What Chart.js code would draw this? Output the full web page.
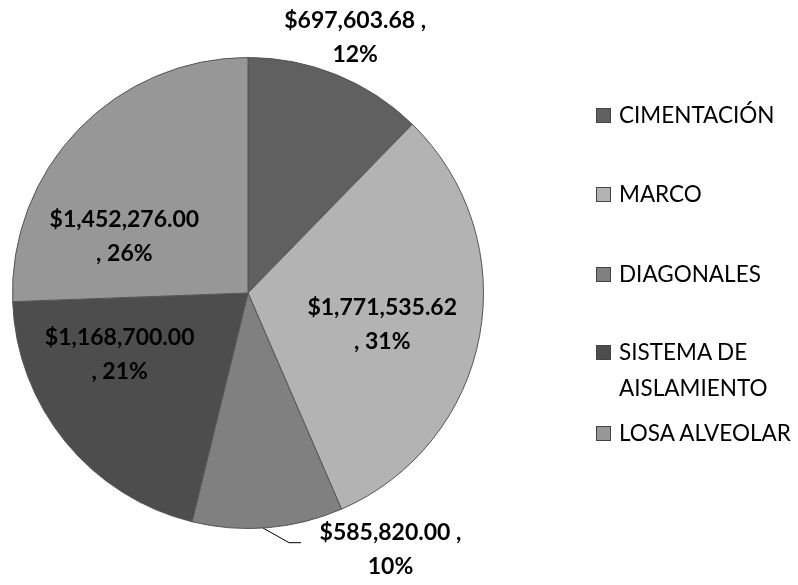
<!DOCTYPE html>
<html lang="es">
<head>
<meta charset="utf-8">
<title>Costos por partida</title>
<script src="https://cdn.jsdelivr.net/npm/chart.js@4.4.1/dist/chart.umd.min.js"></script>
<style>
    html, body { margin: 0; padding: 0; background: #fff; }
    #wrap { position: relative; width: 798px; height: 585px; }
    #costChart { position: absolute; left: 0; top: 0; }
    #legend { position: absolute; left: 596px; top: 0; font-family: Lato, "Open Sans", sans-serif; font-size: 22.5px; color: #000; }
    .item { position: absolute; left: 0; display: flex; align-items: flex-start; white-space: nowrap; line-height: 36px; }
    .box { width: 13px; height: 13px; border: 1px solid #444; margin-top: 11px; margin-right: 8px; flex: none; }
</style>
</head>
<body>
<div id="wrap">
    <canvas id="costChart" width="798" height="585"></canvas>
    <div id="legend"></div>
</div>
<script>
// Partidas del presupuesto
const categorias = ["CIMENTACIÓN", "MARCO", "DIAGONALES", "SISTEMA DE AISLAMIENTO", "LOSA ALVEOLAR"];
const leyenda = [["CIMENTACIÓN"], ["MARCO"], ["DIAGONALES"], ["SISTEMA DE", "AISLAMIENTO"], ["LOSA ALVEOLAR"]];
const costos = [697603.68, 1771535.62, 585820.00, 1168700.00, 1452276.00];
const colores = ["#606060", "#b3b3b3", "#808080", "#4d4d4d", "#979797"];

// Posición de cada etiqueta respecto al centro, en fracciones del radio
const posEtiquetas = [[0.455, -1.085], [0.57, 0.135], [0.605, 1.09], [-0.545, 0.26], [-0.525, -0.24]];
// Renglones del leyenda (y del centro de cada renglón)
const filasLeyenda = [97, 176, 256, 334, 415];

function formatoMoneda(v) {
    return "$" + v.toLocaleString("en-US", { minimumFractionDigits: 2, maximumFractionDigits: 2 });
}

// Etiquetas de valor y porcentaje sobre cada rebanada
const etiquetasPlugin = {
    id: "etiquetas",
    afterDatasetsDraw(chart) {
        const ctx = chart.ctx;
        const meta = chart.getDatasetMeta(0);
        const total = costos.reduce((a, b) => a + b, 0);
        ctx.save();
        ctx.font = "bold 23px Lato, sans-serif";
        ctx.fillStyle = "#000";
        ctx.textAlign = "center";
        ctx.textBaseline = "middle";
        meta.data.forEach((arc, i) => {
            const r = arc.outerRadius;
            const x = arc.x + posEtiquetas[i][0] * r;
            const y = arc.y + posEtiquetas[i][1] * r;
            const pct = Math.round(costos[i] / total * 100) + "%";
            const dentro = i === 1 || i === 3 || i === 4;
            const l1 = formatoMoneda(costos[i]) + (dentro ? "" : " ,");
            const l2 = dentro ? ", " + pct : pct;
            ctx.fillText(l1, x, y - 17);
            ctx.fillText(l2, x, y + 17);

            // línea guía para la etiqueta de DIAGONALES
            if (i === 2) {
                const mid = (arc.startAngle + arc.endAngle) / 2;
                const a = mid + 0.02;
                const px = arc.x + Math.cos(a) * r;
                const py = arc.y + Math.sin(a) * r;
                ctx.strokeStyle = "#000";
                ctx.lineWidth = 1;
                ctx.beginPath();
                ctx.moveTo(px, py);
                ctx.lineTo(px + 26, y - 7);
                ctx.lineTo(px + 38, y - 7);
                ctx.stroke();
            }
        });
        ctx.restore();
    }
};

new Chart(document.getElementById("costChart"), {
    type: "pie",
    data: {
        labels: categorias,
        datasets: [{
            data: costos,
            backgroundColor: colores,
            borderColor: "#555",
            borderWidth: 1
        }]
    },
    options: {
        responsive: false,
        animation: false,
        layout: { padding: { left: 12, right: 314, top: 57, bottom: 56 } },
        plugins: {
            legend: { display: false },
            tooltip: { enabled: false }
        }
    },
    plugins: [etiquetasPlugin]
});

// Leyenda a la derecha
const legendEl = document.getElementById("legend");
leyenda.forEach((lineas, i) => {
    const item = document.createElement("div");
    item.className = "item";
    item.style.top = filasLeyenda[i] + "px";
    const box = document.createElement("span");
    box.className = "box";
    box.style.background = colores[i];
    const txt = document.createElement("span");
    txt.innerHTML = lineas.join("<br>");
    item.appendChild(box);
    item.appendChild(txt);
    legendEl.appendChild(item);
});
</script>
</body>
</html>
